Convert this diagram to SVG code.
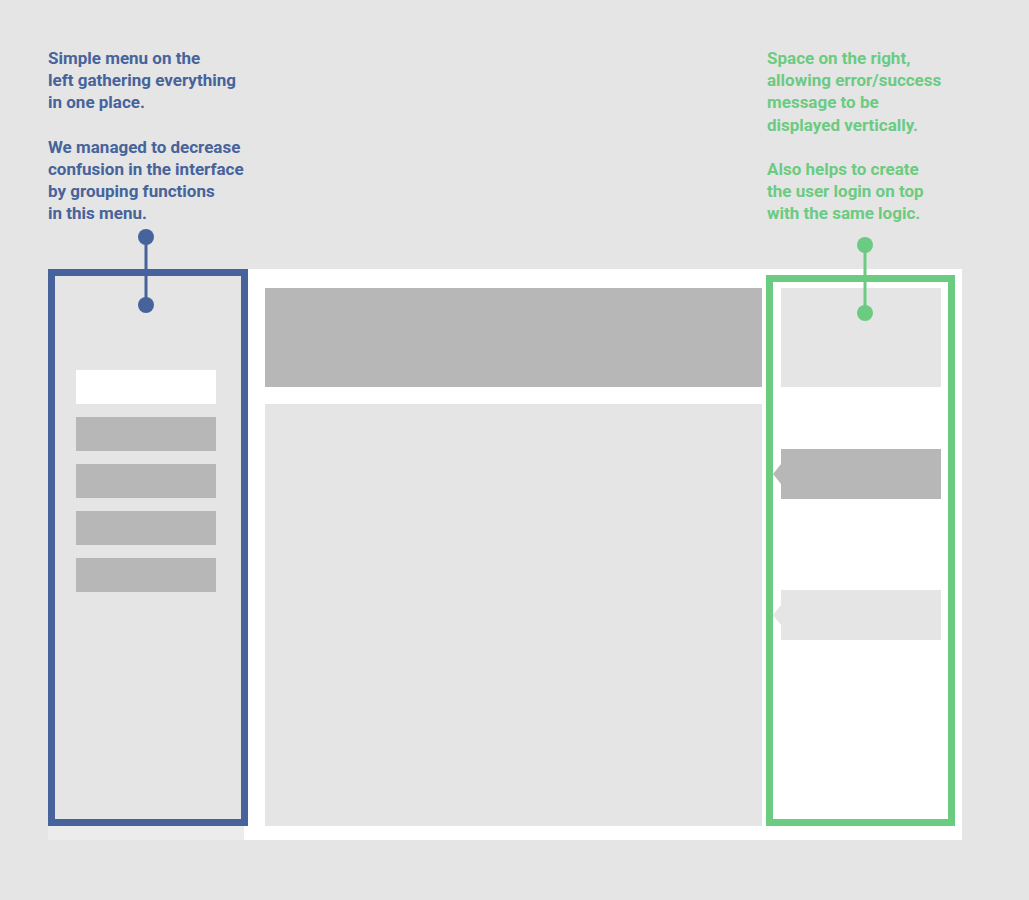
<svg xmlns="http://www.w3.org/2000/svg" width="1029" height="900" viewBox="0 0 1029 900">
<style>
text{font-family:Roboto,"Liberation Sans",sans-serif;font-weight:bold;font-size:17px}
.b{fill:#47639b}.g{fill:#6bcb81}
.gr{fill:#b7b7b7}.lg{fill:#e5e5e5}
</style>
<rect width="1029" height="900" fill="#e5e5e5"/>
<rect x="48" y="269" width="914" height="571" fill="#fff"/>
<rect x="48" y="269" width="196" height="557" class="lg"/>
<rect x="48" y="826" width="196" height="14" fill="#ececec"/>
<g id="header"><rect x="265" y="288" width="497" height="99" class="gr"/></g>
<g id="content"><rect x="265" y="404" width="497" height="422" class="lg"/></g>
<g id="menu">
<rect x="76" y="370" width="140" height="34" fill="#fff"/>
<rect x="76" y="417" width="140" height="34" class="gr"/>
<rect x="76" y="464" width="140" height="34" class="gr"/>
<rect x="76" y="511" width="140" height="34" class="gr"/>
<rect x="76" y="558" width="140" height="34" class="gr"/>
<rect x="51.5" y="272.5" width="193" height="550" fill="none" stroke="#47639b" stroke-width="7"/>
</g>
<g id="right">
<rect x="781" y="288" width="160" height="99" class="lg"/>
<path d="M781 449H941V499H781V484L773 474L781 464Z" class="gr"/>
<path d="M781 590H941V640H781V625L773 615L781 605Z" class="lg"/>
<rect x="769.5" y="278.5" width="182" height="544" fill="none" stroke="#6bcb81" stroke-width="7"/>
</g>
<g id="connectors">
<line x1="146" y1="237" x2="146" y2="305" stroke="#47639b" stroke-width="3"/>
<circle cx="146" cy="237" r="8" fill="#47639b"/><circle cx="146" cy="305" r="8" fill="#47639b"/>
<line x1="865" y1="245" x2="865" y2="313" stroke="#6bcb81" stroke-width="3"/>
<circle cx="865" cy="245" r="8" fill="#6bcb81"/><circle cx="865" cy="313" r="8" fill="#6bcb81"/>
</g>
<g id="note-left" class="b">
<text x="48" y="64">Simple menu on the</text>
<text x="48" y="86">left gathering everything</text>
<text x="48" y="108">in one place.</text>
<text x="48" y="153">We managed to decrease</text>
<text x="48" y="175">confusion in the interface</text>
<text x="48" y="197">by grouping functions</text>
<text x="48" y="219">in this menu.</text>
</g>
<g id="note-right" class="g">
<text x="767" y="64">Space on the right,</text>
<text x="767" y="86">allowing error/success</text>
<text x="767" y="108">message to be</text>
<text x="767" y="131">displayed vertically.</text>
<text x="767" y="175">Also helps to create</text>
<text x="767" y="197">the user login on top</text>
<text x="767" y="219">with the same logic.</text>
</g>
</svg>
